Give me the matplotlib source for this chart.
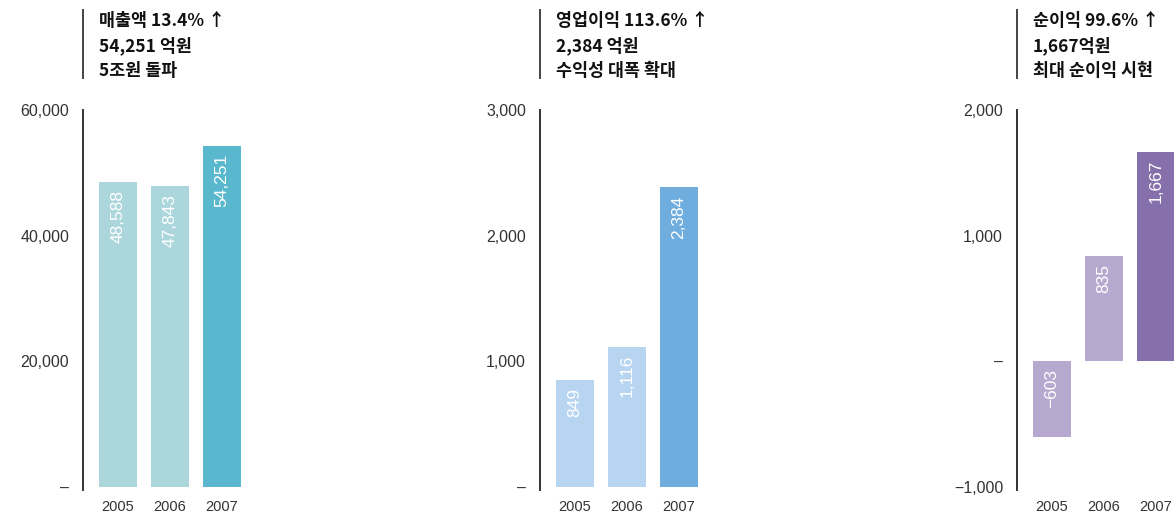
import matplotlib.pyplot as plt
from matplotlib.lines import Line2D

W, H = 1174, 514

years = ["2005", "2006", "2007"]

sales = [48588, 47843, 54251]
op_profit = [849, 1116, 2384]
net_profit = [-603, 835, 1667]

titles = [
    ["매출액 13.4% ↑", "54,251 억원", "5조원 돌파"],
    ["영업이익 113.6% ↑", "2,384 억원", "수익성 대폭 확대"],
    ["순이익 99.6% ↑", "1,667억원", "최대 순이익 시현"],
]

yticks = [
    [0, 20000, 40000, 60000],
    [0, 1000, 2000, 3000],
    [-1000, 0, 1000, 2000],
]
ytick_labels = [
    ["–", "20,000", "40,000", "60,000"],
    ["–", "1,000", "2,000", "3,000"],
    ["−1,000", "–", "1,000", "2,000"],
]

colors = [
    ["#abd6dc", "#abd6dc", "#5ab8ce"],
    ["#b7d5f0", "#b7d5f0", "#70addf"],
    ["#b7a8cf", "#b7a8cf", "#8670ac"],
]

series = [sales, op_profit, net_profit]
spine_x = [83, 540, 1017]

# pixel rows of the top / bottom tick values for each panel
top_px, bot_px = 110, 487

plt.rcParams['font.family'] = ['Liberation Sans', 'DejaVu Sans']

fig = plt.figure(figsize=(W / 100, H / 100), dpi=100)

for i in range(3):
    x0 = spine_x[i]
    ax_w = 200
    ax_top, ax_bot = top_px, 490
    ax = fig.add_axes([x0 / W, 1 - ax_bot / H, ax_w / W, (ax_bot - ax_top) / H])

    lo_v, hi_v = yticks[i][0], yticks[i][-1]
    per_px = (hi_v - lo_v) / (bot_px - top_px)
    ax.set_ylim(lo_v - (ax_bot - bot_px) * per_px, hi_v)

    step = 52
    left = -(118 - 83) / step
    ax.set_xlim(left, left + ax_w / step)

    pos = list(range(len(years)))
    ax.bar(pos, series[i], width=38 / step, color=colors[i], linewidth=0)

    off = 8 * per_px
    for p, v in zip(pos, series[i]):
        s = f"{abs(v):,}"
        if v < 0:
            s = "−" + s
        ax.text(p, max(v, 0) - off, s, rotation=90, ha='center', va='top',
                color='white', fontsize=12.5, family=['Liberation Sans', 'DejaVu Sans'])

    ax.set_yticks(yticks[i])
    ax.set_yticklabels(ytick_labels[i])
    ax.set_xticks(pos)
    ax.set_xticklabels(years)
    ax.tick_params(axis='y', length=0, pad=10, labelsize=11.5, labelcolor='#333333')
    ax.tick_params(axis='x', length=0, pad=7, labelsize=10.5, labelcolor='#333333')

    for side in ['top', 'right', 'bottom']:
        ax.spines[side].set_visible(False)
    ax.spines['left'].set_color('#333333')
    ax.spines['left'].set_linewidth(1.4)

    # header bar and text
    fig.add_artist(Line2D([x0 / W, x0 / W], [1 - 10 / H, 1 - 78 / H],
                          color='#444444', linewidth=1.4))
    for k, line in enumerate(titles[i]):
        fig.text((x0 + 16) / W, 1 - (21 + 25 * k) / H, line, ha='left', va='center',
                 fontsize=12.5, fontweight='bold', color='#111111',
                 family=['Noto Sans CJK KR', 'DejaVu Sans'])

fig.savefig("out.png", dpi=100)
